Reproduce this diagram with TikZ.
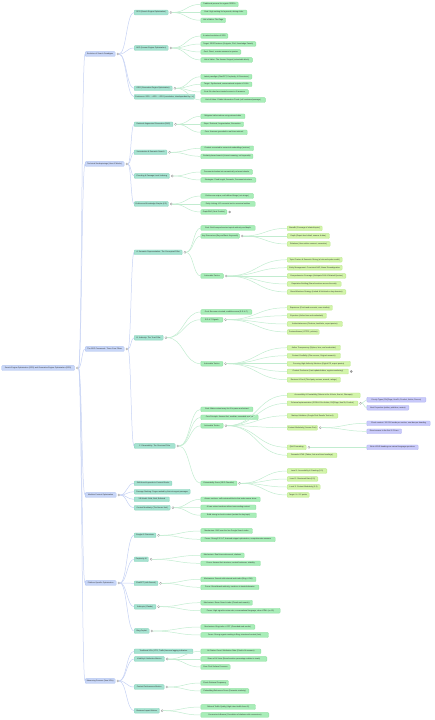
\documentclass[tikz,border=0pt]{standalone}
\usepackage{fontspec}
\setmainfont{Liberation Sans}
\usetikzlibrary{calc}

\definecolor{rootfill}{HTML}{C8D6F7}
\definecolor{rootline}{HTML}{AFC3F0}
\definecolor{tealfill}{HTML}{A5E2D0}
\definecolor{tealline}{HTML}{8DD5BE}
\definecolor{mintfill}{HTML}{A8EDB8}
\definecolor{mintline}{HTML}{90E0A2}
\definecolor{limefill}{HTML}{D2F4A9}
\definecolor{limeline}{HTML}{BCE98F}
\definecolor{lilacfill}{HTML}{C9CAFA}
\definecolor{lilacline}{HTML}{B1B3F3}
\definecolor{linkblue}{HTML}{C6D2F4}
\definecolor{linkgreen}{HTML}{C2ECD0}

\begin{document}
\begin{tikzpicture}[x=1pt, y=-1pt,
    box/.style={draw, rounded corners=0.8pt, anchor=west, inner xsep=1pt, inner ysep=0pt, minimum height=4.8pt, line width=0.3pt, text=black!80, font=\fontsize{1.9}{2.2}\selectfont},
    wide/.style={minimum width=#1pt},
    lvroot/.style={box, fill=rootfill, draw=rootline},
    lvone/.style={box, fill=rootfill, draw=rootline},
    lvtwo/.style={box, fill=tealfill, draw=tealline},
    lvthree/.style={box, fill=mintfill, draw=mintline},
    lvfour/.style={box, fill=limefill, draw=limeline},
    lvfive/.style={box, fill=lilacfill, draw=lilacline},
    tog/.style={draw=black!40, fill=white, line width=0.3pt},
    kids/.style={append after command={\pgfextra{\draw[tog] ($(\tikzlastnode.east)+(2.6,0)$) circle (1.1pt);}}},
    shut/.style={append after command={\pgfextra{\draw[tog, fill=black!35] ($(\tikzlastnode.east)+(2.6,0)$) circle (1.1pt);}}},
    link/.style={line width=0.5pt, to path={let \p1=($(\tikztostart)+(3.7,0)$), \p2=(\tikztotarget) in (\p1) .. controls ({(\x1+\x2)/2},\y1) and ({(\x1+\x2)/2},\y2) .. (\p2) \tikztonodes}},
    bluelink/.style={link, draw=linkblue},
    greenlink/.style={link, draw=linkgreen}
  ]
    \useasboundingbox (0,0) rectangle (435,720);

    \node[lvroot, wide=73, kids] (root) at (1.5,368) {Search Engine Optimization (SEO) and Generative Engine Optimization (GEO)};

    \node[lvone, wide=30, kids] (evo)   at (85,54)  {Evolution of Search Paradigms};
    \node[lvone, wide=39, kids] (tech)  at (85,164) {Technical Underpinnings (How AI Works)};
    \node[lvone, wide=39, kids] (frame) at (85,349) {The GEO Framework: Three Core Pillars};
    \node[lvone, wide=31, kids] (modu)  at (85,495) {Modular Content Optimization};
    \node[lvone, wide=31, kids] (plat)  at (85,583) {Platform-Specific Optimization};
    \node[lvone, wide=30, kids] (meas)  at (85,681) {Measuring Success (New KPIs)};

    \node[lvtwo, wide=34, kids] (seo)  at (134,12.5) {SEO (Search Engine Optimization)};
    \node[lvtwo, wide=34, kids] (aeo)  at (134,48)   {AEO (Answer Engine Optimization)};
    \node[lvtwo, wide=38, kids] (geo)  at (134,88.3) {GEO (Generative Engine Optimization)};
    \node[lvtwo, wide=60]       (cont) at (134,96.7) {Continuum: SEO → AEO → GEO (cumulative, interdependent layers)};
    \node[lvtwo, wide=38.7, kids] (rag)  at (134,124.3) {Retrieval-Augmented Generation (RAG)};
    \node[lvtwo, wide=32.7, kids] (vec)  at (134,152.3) {Vectorization \& Semantic Search};
    \node[lvtwo, wide=35.3, kids] (chnk) at (134,176)   {Chunking \& Passage-Level Indexing};
    \node[lvtwo, wide=34.3, kids] (ent)  at (134,204)   {Entities and Knowledge Graphs (KG)};
    \node[lvtwo, wide=48, kids]   (pa)   at (134,252.3) {A. Semantic Representation: The Conceptual Pillar};
    \node[lvtwo, wide=29, kids]   (pb)   at (134,337.7) {B. Authority: The Trust Pillar};
    \node[lvtwo, wide=41, kids]   (pc)   at (134,446)   {C. Extractability: The Structural Pillar};
    \node[lvtwo, wide=37.7]       (shift)  at (134,483.3) {Shift from Keywords to Content Blocks};
    \node[lvtwo, wide=56]         (pass)   at (134,491.7) {Passage Ranking: Pages ranked by their strongest passages};
    \node[lvtwo, wide=35.3]       (threeb) at (134,499.3) {3-B Model: Bold, Brief, Bulleted};
    \node[lvtwo, wide=36, kids]   (atom)   at (134,507.7) {Content Modularity (The Atomic Unit)};
    \node[lvtwo, wide=21.7, kids] (gaio) at (134,535.3) {Google AI Overviews};
    \node[lvtwo, wide=14.3, kids] (pplx) at (134,559.3) {Perplexity AI};
    \node[lvtwo, wide=23.7, kids] (cgpt) at (134,583.3) {ChatGPT (with Search)};
    \node[lvtwo, wide=21.7, kids] (clde) at (134,606.7) {Anthropic (Claude)};
    \node[lvtwo, wide=15, kids]   (bing) at (134,631)   {Bing Copilot};
    \node[lvtwo, wide=58.7]       (trad)  at (134,651.3) {Traditional KPIs (CTR, Traffic) become lagging indicators};
    \node[lvtwo, wide=30.3, kids] (vis)   at (134,659)   {Visibility \& Attribution Metrics};
    \node[lvtwo, wide=30, kids]   (cperf) at (134,687)   {Content Performance Metrics};
    \node[lvtwo, wide=25.3, kids] (biz)   at (134,710.7) {Business Impact Metrics};

    \node[lvthree, wide=37.3] (seoa) at (200.7,4.3)  {Traditional process for organic SERPs};
    \node[lvthree, wide=46]   (seob) at (200.7,12.5) {Goal: High ranking for keywords, driving clicks};
    \node[lvthree, wide=24.7] (seoc) at (200.7,20.3) {Unit of Value: The Page};
    \node[lvthree, wide=27]   (aeoa) at (200.7,36)   {A natural evolution of SEO};
    \node[lvthree, wide=55]   (aeob) at (200.7,44)   {Target: SERP features (Snippets, PAA, Knowledge Panels)};
    \node[lvthree, wide=40]   (aeoc) at (200.7,52)   {Goal: Direct, concise answers to queries};
    \node[lvthree, wide=51.5] (aeod) at (200.7,60)   {Unit of Value: The Answer Snippet (extractable block)};
    \node[lvthree, wide=51]   (geoa) at (200.7,76.7) {Latest paradigm (ChatGPT, Perplexity, AI Overviews)};
    \node[lvthree, wide=51]   (geob) at (200.7,84.3) {Target: Synthesized, conversational outputs of LLMs};
    \node[lvthree, wide=47.5] (geoc) at (200.7,92)   {Goal: Be cited as a trusted source in AI answers};
    \node[lvthree, wide=64.5] (geod) at (200.7,100)  {Unit of Value: Citable Information Chunk (self-contained passage)};
    \node[lvthree, wide=44]   (raga) at (200.7,116.3) {Mitigates hallucinations using external data};
    \node[lvthree, wide=42.7] (ragb) at (200.7,124.3) {Steps: Retrieval, Augmentation, Generation};
    \node[lvthree, wide=46.3] (ragc) at (200.7,132.3) {Core: Answers grounded in real-time retrieval};
    \node[lvthree, wide=52.7] (veca) at (200.7,148.3) {Content converted to numerical embeddings (vectors)};
    \node[lvthree, wide=52]   (vecb) at (200.7,156.3) {Similarity-based search (closest meaning, not keywords)};
    \node[lvthree, wide=51.7] (chka) at (200.7,172)   {Documents broken into semantically coherent chunks};
    \node[lvthree, wide=55]   (chkb) at (200.7,180)   {Strategies: Fixed-length, Semantic, Document-structure};
    \node[lvthree, wide=52.7] (enta) at (200.7,196)   {Entities are unique, well-defined things (not strings)};
    \node[lvthree, wide=54.3] (entb) at (200.7,204)   {Entity Linking: KG connects text to canonical entities};
    \node[lvthree, wide=26, shut] (entc) at (200.7,212) {GraphRAG (Next Frontier)};
    \node[lvthree, wide=54.3] (goala) at (200.7,228)  {Goal: Build comprehensive topical authority and depth};
    \node[lvthree, wide=38.5, kids] (dims) at (200.7,236) {Key Dimensions (Beyond Basic Keywords)};
    \node[lvthree, wide=22.5, kids] (tacta) at (200.7,276) {Actionable Tactics};
    \node[lvthree, wide=51]   (goalb) at (200.7,312)  {Goal: Become a trusted, credible source (E-E-A-T)};
    \node[lvthree, wide=22, kids] (eeat) at (200.7,319.7) {E-E-A-T Signals};
    \node[lvthree, wide=22, kids] (tactb) at (200.7,363.7) {Actionable Tactics};
    \node[lvthree, wide=52]   (goalc) at (200.7,409.3) {Goal: Make content easy for AI to parse and extract};
    \node[lvthree, wide=57.3] (core)  at (200.7,417.3) {Core Principle: Answer-first, modular, scannable content};
    \node[lvthree, wide=22.3, kids] (tactc) at (200.7,425.7) {Actionable Tactics};
    \node[lvthree, wide=36, kids]   (score) at (200.7,483.3) {Extractability Score (GEO Checklist)};
    \node[lvthree, wide=59.3] (atoma) at (200.7,499.3) {Atomic sections: self-contained blocks that make sense alone};
    \node[lvthree, wide=55]   (atomb) at (200.7,507.3) {AI can extract sections without surrounding context};
    \node[lvthree, wide=55.6] (atomc) at (200.7,515.3) {Build strong in-chunk context (restate the key topic)};
    \node[lvthree, wide=51.6] (gaioa) at (200.7,531)   {Mechanism: RAG over the live Google Search index};
    \node[lvthree, wide=74.3] (gaiob) at (200.7,539.3) {Focus: Strong E-E-A-T, featured snippet optimization, comprehensive answers};
    \node[lvthree, wide=43.3] (pplxa) at (200.7,555.3) {Mechanism: Real-time web search, citations};
    \node[lvthree, wide=59.6] (pplxb) at (200.7,563.3) {Focus: Answer-first structure, content freshness, citability};
    \node[lvthree, wide=55]   (cgpta) at (200.7,579.3) {Mechanism: Search with external web index (Bing + OAI)};
    \node[lvthree, wide=58]   (cgptb) at (200.7,587.3) {Focus: Broad brand authority, mentions in trusted domains};
    \node[lvthree, wide=51.6] (cldea) at (200.7,602.7) {Mechanism: Brave Search index (Claude web search)};
    \node[lvthree, wide=79.3] (clded) at (200.7,610.7) {Focus: High signal-to-noise ratio, conversational language, clean HTML (no JS)};
    \node[lvthree, wide=54]   (binga) at (200.7,627)   {Mechanism: Bing index + GPT (Grounded web results)};
    \node[lvthree, wide=67.6] (bingb) at (200.7,635)   {Focus: Strong organic ranking in Bing, structured content (lists)};
    \node[lvthree, wide=60]   (visa)  at (200.7,651.3) {AI Citation Count / Attribution Rate (Cited in AI answers)};
    \node[lvthree, wide=66]   (visb)  at (200.7,659)   {Share of AI Voice (Brand mention percentage relative to rivals)};
    \node[lvthree, wide=29.3] (visc)  at (200.7,667)   {Zero-Click Surface Presence};
    \node[lvthree, wide=27.6] (cperfa) at (200.7,683)  {Chunk Retrieval Frequency};
    \node[lvthree, wide=48]   (cperfb) at (200.7,691)  {Embedding Relevance Score (Semantic similarity)};
    \node[lvthree, wide=54.6] (biza)  at (200.7,707)   {Referral Traffic Quality (High-intent traffic from AI)};
    \node[lvthree, wide=68]   (bizb)  at (200.7,715)   {Conversion Influence (Correlation of citations with conversions)};

    \node[lvfour, wide=35]   (dima) at (287,228.3) {Breadth (Coverage of related topics)};
    \node[lvfour, wide=42.3] (dimb) at (287,236)   {Depth (Expert-level detail, nuance \& data)};
    \node[lvfour, wide=43]   (dimc) at (287,244)   {Relations (How entities connect, semantics)};
    \node[lvfour, wide=55]   (tava) at (287,259.7) {Topic Clusters \& Semantic Siloing (a hub-and-spoke model)};
    \node[lvfour, wide=55]   (tavb) at (287,267.7) {Entity Management: Consistent NAP, Name Disambiguation};
    \node[lvfour, wide=58.7] (tavc) at (287,276)   {Comprehensive Coverage (Anticipate PAA \& Related Queries)};
    \node[lvfour, wide=54]   (tavd) at (287,284)   {Reputation Building (Brand mentions across the web)};
    \node[lvfour, wide=58.7] (tave) at (287,292)   {Brand Mentions Strategy (Linked \& Unlinked on key domains)};
    \node[lvfour, wide=45.3] (exp)  at (287,307.7) {Experience (First-hand accounts, case studies)};
    \node[lvfour, wide=39.3] (expt) at (287,315.7) {Expertise (Author bios and credentials)};
    \node[lvfour, wide=55.3] (auth) at (287,324)   {Authoritativeness (Citations, backlinks, expert quotes)};
    \node[lvfour, wide=32]   (trst) at (287,332)   {Trustworthiness (HTTPS, policies)};
    \node[lvfour, wide=53.3] (tbva) at (287,347.7) {Author Transparency (Bylines, bios, and credentials)};
    \node[lvfour, wide=53.3] (tbvb) at (287,355.7) {Content Credibility (Cite sources, Original research)};
    \node[lvfour, wide=63.3] (tbvc) at (287,363.7) {Securing High-Authority Mentions (Digital PR, expert quotes)};
    \node[lvfour, wide=61.3, shut] (tbvd) at (287,371.5) {Content Freshness (Last updated dates, regular monitoring)};
    \node[lvfour, wide=53.3] (tbve) at (287,379.7) {Reviews \& Proof (Third-party reviews, awards, ratings)};
    \node[lvfour, wide=73]   (tcva) at (287,395.3) {Accessibility \& Crawlability (Robots.txt for AI bots, llms.txt, Sitemaps)};
    \node[lvfour, wide=70.7, kids] (schema) at (287,403.3) {Schema Implementation (JSON-LD for Article, FAQPage, HowTo, Product)};
    \node[lvfour, wide=50.7] (tcvc) at (287,415.7) {Markup Validation (Google Rich Results Test tool)};
    \node[lvfour, wide=30.3, kids] (cmod) at (287,427.7) {Content Modularity (Answer-First)};
    \node[lvfour, wide=19, kids]   (qna)  at (287,447.3) {Q\&A Formatting};
    \node[lvfour, wide=49.7] (tcvf) at (287,455.3) {Semantic HTML (Tables, lists and clear headings)};
    \node[lvfour, wide=39.7] (lvla) at (287,471)   {Level 1: Accessibility \& Crawling (0-3)};
    \node[lvfour, wide=30.7] (lvlb) at (287,479)   {Level 2: Structured Data (0-3)};
    \node[lvfour, wide=33]   (lvlc) at (287,487)   {Level 3: Content Modularity (0-3)};
    \node[lvfour, wide=22]   (lvld) at (287,495)   {Target: 9+ / 12 points};

    \node[lvfive, wide=59]   (scha) at (366.7,399.7) {Priority Types (FAQPage, HowTo, Product, Article, Person)};
    \node[lvfive, wide=42]   (schb) at (366.7,407.7) {Nest Properties (author, publisher, review)};
    \node[lvfive, wide=63.3] (cmda) at (366.7,423.3) {Chunk content: 100-300 words per section, one idea per heading};
    \node[lvfive, wide=34.7] (cmdb) at (366.7,431.3) {Direct answer in the first 1–2 lines};
    \node[lvfive, wide=51.3] (qnaa) at (366.7,447.3) {Write H2/H3 headings as natural-language questions};

    \draw[bluelink] (root.east) to (evo.west);
    \draw[bluelink] (root.east) to (tech.west);
    \draw[bluelink] (root.east) to (frame.west);
    \draw[bluelink] (root.east) to (modu.west);
    \draw[bluelink] (root.east) to (plat.west);
    \draw[bluelink] (root.east) to (meas.west);

    \draw[bluelink] (evo.east) to (seo.west);
    \draw[bluelink] (evo.east) to (aeo.west);
    \draw[bluelink] (evo.east) to (geo.west);
    \draw[bluelink] (evo.east) to (cont.west);
    \draw[bluelink] (tech.east) to (rag.west);
    \draw[bluelink] (tech.east) to (vec.west);
    \draw[bluelink] (tech.east) to (chnk.west);
    \draw[bluelink] (tech.east) to (ent.west);
    \draw[bluelink] (frame.east) to (pa.west);
    \draw[bluelink] (frame.east) to (pb.west);
    \draw[bluelink] (frame.east) to (pc.west);
    \draw[bluelink] (modu.east) to (shift.west);
    \draw[bluelink] (modu.east) to (pass.west);
    \draw[bluelink] (modu.east) to (threeb.west);
    \draw[bluelink] (modu.east) to (atom.west);
    \draw[bluelink] (plat.east) to (gaio.west);
    \draw[bluelink] (plat.east) to (pplx.west);
    \draw[bluelink] (plat.east) to (cgpt.west);
    \draw[bluelink] (plat.east) to (clde.west);
    \draw[bluelink] (plat.east) to (bing.west);
    \draw[bluelink] (meas.east) to (trad.west);
    \draw[bluelink] (meas.east) to (vis.west);
    \draw[bluelink] (meas.east) to (cperf.west);
    \draw[bluelink] (meas.east) to (biz.west);

    \draw[greenlink] (seo.east) to (seoa.west);
    \draw[greenlink] (seo.east) to (seob.west);
    \draw[greenlink] (seo.east) to (seoc.west);
    \draw[greenlink] (aeo.east) to (aeoa.west);
    \draw[greenlink] (aeo.east) to (aeob.west);
    \draw[greenlink] (aeo.east) to (aeoc.west);
    \draw[greenlink] (aeo.east) to (aeod.west);
    \draw[greenlink] (geo.east) to (geoa.west);
    \draw[greenlink] (geo.east) to (geob.west);
    \draw[greenlink] (geo.east) to (geoc.west);
    \draw[greenlink] (geo.east) to (geod.west);
    \draw[greenlink] (rag.east) to (raga.west);
    \draw[greenlink] (rag.east) to (ragb.west);
    \draw[greenlink] (rag.east) to (ragc.west);
    \draw[greenlink] (vec.east) to (veca.west);
    \draw[greenlink] (vec.east) to (vecb.west);
    \draw[greenlink] (chnk.east) to (chka.west);
    \draw[greenlink] (chnk.east) to (chkb.west);
    \draw[greenlink] (ent.east) to (enta.west);
    \draw[greenlink] (ent.east) to (entb.west);
    \draw[greenlink] (ent.east) to (entc.west);
    \draw[greenlink] (pa.east) to (goala.west);
    \draw[greenlink] (pa.east) to (dims.west);
    \draw[greenlink] (pa.east) to (tacta.west);
    \draw[greenlink] (pb.east) to (goalb.west);
    \draw[greenlink] (pb.east) to (eeat.west);
    \draw[greenlink] (pb.east) to (tactb.west);
    \draw[greenlink] (pc.east) to (goalc.west);
    \draw[greenlink] (pc.east) to (core.west);
    \draw[greenlink] (pc.east) to (tactc.west);
    \draw[greenlink] (pc.east) to (score.west);
    \draw[greenlink] (atom.east) to (atoma.west);
    \draw[greenlink] (atom.east) to (atomb.west);
    \draw[greenlink] (atom.east) to (atomc.west);
    \draw[greenlink] (gaio.east) to (gaioa.west);
    \draw[greenlink] (gaio.east) to (gaiob.west);
    \draw[greenlink] (pplx.east) to (pplxa.west);
    \draw[greenlink] (pplx.east) to (pplxb.west);
    \draw[greenlink] (cgpt.east) to (cgpta.west);
    \draw[greenlink] (cgpt.east) to (cgptb.west);
    \draw[greenlink] (clde.east) to (cldea.west);
    \draw[greenlink] (clde.east) to (clded.west);
    \draw[greenlink] (bing.east) to (binga.west);
    \draw[greenlink] (bing.east) to (bingb.west);
    \draw[greenlink] (vis.east) to (visa.west);
    \draw[greenlink] (vis.east) to (visb.west);
    \draw[greenlink] (vis.east) to (visc.west);
    \draw[greenlink] (cperf.east) to (cperfa.west);
    \draw[greenlink] (cperf.east) to (cperfb.west);
    \draw[greenlink] (biz.east) to (biza.west);
    \draw[greenlink] (biz.east) to (bizb.west);

    \draw[greenlink] (dims.east) to (dima.west);
    \draw[greenlink] (dims.east) to (dimb.west);
    \draw[greenlink] (dims.east) to (dimc.west);
    \draw[greenlink] (tacta.east) to (tava.west);
    \draw[greenlink] (tacta.east) to (tavb.west);
    \draw[greenlink] (tacta.east) to (tavc.west);
    \draw[greenlink] (tacta.east) to (tavd.west);
    \draw[greenlink] (tacta.east) to (tave.west);
    \draw[greenlink] (eeat.east) to (exp.west);
    \draw[greenlink] (eeat.east) to (expt.west);
    \draw[greenlink] (eeat.east) to (auth.west);
    \draw[greenlink] (eeat.east) to (trst.west);
    \draw[greenlink] (tactb.east) to (tbva.west);
    \draw[greenlink] (tactb.east) to (tbvb.west);
    \draw[greenlink] (tactb.east) to (tbvc.west);
    \draw[greenlink] (tactb.east) to (tbvd.west);
    \draw[greenlink] (tactb.east) to (tbve.west);
    \draw[greenlink] (tactc.east) to (tcva.west);
    \draw[greenlink] (tactc.east) to (schema.west);
    \draw[greenlink] (tactc.east) to (tcvc.west);
    \draw[greenlink] (tactc.east) to (cmod.west);
    \draw[greenlink] (tactc.east) to (qna.west);
    \draw[greenlink] (tactc.east) to (tcvf.west);
    \draw[greenlink] (score.east) to (lvla.west);
    \draw[greenlink] (score.east) to (lvlb.west);
    \draw[greenlink] (score.east) to (lvlc.west);
    \draw[greenlink] (score.east) to (lvld.west);

    \draw[greenlink] (schema.east) to (scha.west);
    \draw[greenlink] (schema.east) to (schb.west);
    \draw[greenlink] (cmod.east) to (cmda.west);
    \draw[greenlink] (cmod.east) to (cmdb.west);
    \draw[greenlink] (qna.east) to (qnaa.west);
  \end{tikzpicture}
\end{document}
